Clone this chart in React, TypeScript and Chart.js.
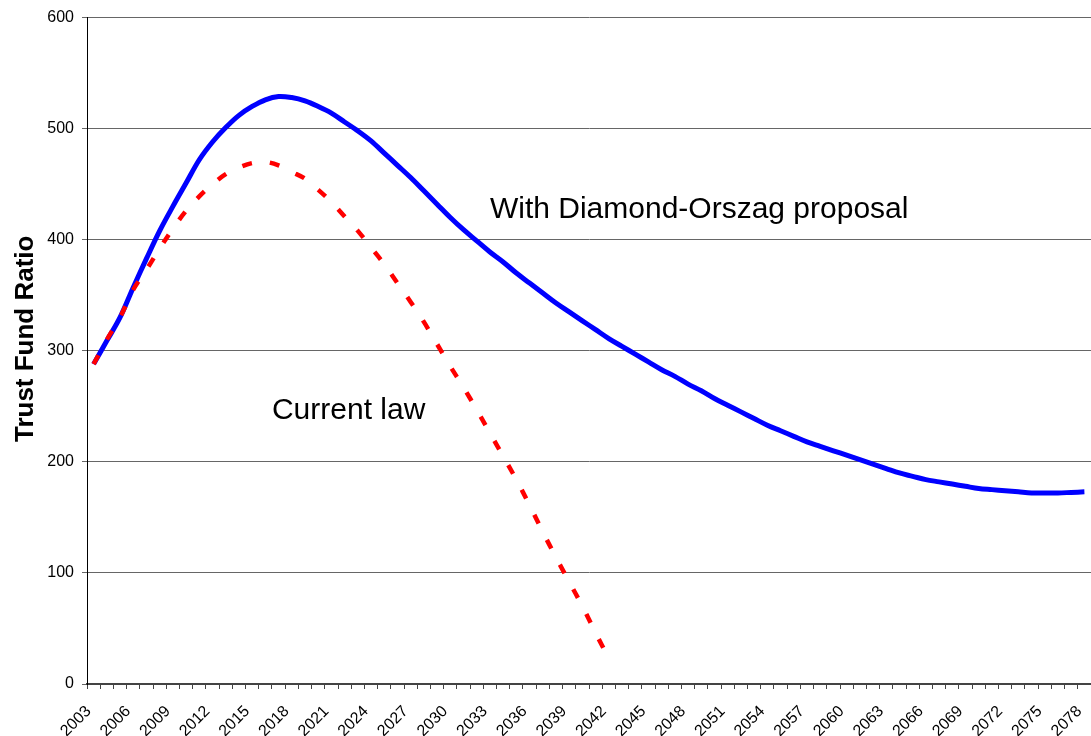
import React, { useEffect, useRef } from 'react';
import { Chart, registerables } from 'chart.js';

Chart.register(...registerables);

const years: string[] = [
  '2003', '2004', '2005', '2006', '2007', '2008', '2009', '2010', '2011', '2012',
  '2013', '2014', '2015', '2016', '2017', '2018', '2019', '2020', '2021', '2022',
  '2023', '2024', '2025', '2026', '2027', '2028', '2029', '2030', '2031', '2032',
  '2033', '2034', '2035', '2036', '2037', '2038', '2039', '2040', '2041', '2042',
  '2043', '2044', '2045', '2046', '2047', '2048', '2049', '2050', '2051', '2052',
  '2053', '2054', '2055', '2056', '2057', '2058', '2059', '2060', '2061', '2062',
  '2063', '2064', '2065', '2066', '2067', '2068', '2069', '2070', '2071', '2072',
  '2073', '2074', '2075', '2076', '2077', '2078',
];

// With Diamond-Orszag proposal
const proposal: number[] = [
  288, 309, 330, 357, 383, 408, 430, 451, 472, 488,
  501, 512, 520, 526, 529, 528, 525, 520, 514, 506,
  498, 489, 478, 467, 456, 444, 432, 420, 409, 399,
  389, 380, 370, 361, 352, 343, 335, 327, 319, 311,
  304, 297, 290, 283, 277, 270, 264, 257, 251, 245,
  239, 233, 228, 223, 218, 214, 210, 206, 202, 198,
  194, 190, 187, 184, 182, 180, 178, 176, 175, 174,
  173, 172, 172, 172, 172.5, 173,
];

// Current law
const currentLaw: number[] = [
  288, 310, 330, 355, 373, 392, 410, 426, 439, 450,
  459, 465, 469, 470, 467, 461, 455, 445, 434, 421,
  408, 393, 378, 361, 344, 326, 306, 286, 267, 247,
  226, 205, 184, 161, 137, 114, 92, 70, 46, 23,
];

const yTicks: number[] = [0, 100, 200, 300, 400, 500, 600];

const annotationTexts: string[] = ['With Diamond-Orszag proposal', 'Current law'];
const annotationIndex: number[] = [30, 13.5];
const annotationValue: number[] = [420, 239];
const yTitle = 'Trust Fund Ratio';

const FONT = '"Liberation Sans", Arial, Helvetica, sans-serif';

const textPlugin = {
  id: 'textPlugin',
  afterDatasetsDraw(chart: any) {
    const { ctx, scales } = chart;
    const xs = scales.x;
    const ys = scales.y;
    ctx.save();
    ctx.fillStyle = '#000';
    ctx.font = `30px ${FONT}`;
    ctx.textAlign = 'left';
    ctx.textBaseline = 'alphabetic';
    annotationTexts.forEach((t, i) => {
      const px = xs.getPixelForValue(annotationIndex[i]);
      const py = ys.getPixelForValue(annotationValue[i]);
      ctx.fillText(t, px, py);
    });
    ctx.restore();

    ctx.save();
    ctx.fillStyle = '#000';
    ctx.font = `bold 26px ${FONT}`;
    ctx.textAlign = 'center';
    ctx.textBaseline = 'alphabetic';
    const cy = (chart.chartArea.top + chart.chartArea.bottom) / 2 - 12;
    ctx.translate(33, cy);
    ctx.rotate(-Math.PI / 2);
    ctx.fillText(yTitle, 0, 0);
    ctx.restore();
  },
};

export default function App() {
  const ref = useRef<HTMLCanvasElement>(null);
  useEffect(() => {
    if (!ref.current) return;
    const chart = new Chart(ref.current, {
      type: 'line',
      data: {
        labels: years,
        datasets: [
          {
            label: 'Current law',
            data: currentLaw,
            borderColor: '#ff0000',
            borderWidth: 4.5,
            borderDash: [10, 18],
            borderCapStyle: 'butt',
            pointRadius: 0,
            tension: 0.35,
            fill: false,
          },
          {
            label: 'With Diamond-Orszag proposal',
            data: proposal,
            borderColor: '#0000ff',
            borderWidth: 5,
            pointRadius: 0,
            tension: 0.35,
            fill: false,
          },
        ],
      },
      options: {
        responsive: false,
        animation: false,
        layout: { padding: { top: 17, left: 0, right: 0, bottom: 0 } },
        plugins: {
          legend: { display: false },
          tooltip: { enabled: false },
        },
        scales: {
          x: {
            offset: true,
            grid: {
              offset: true,
              drawOnChartArea: false,
              drawTicks: true,
              tickLength: 5,
              color: '#444',
              lineWidth: 1,
            },
            border: { color: '#444', width: 2 },
            ticks: {
              autoSkip: false,
              minRotation: 45,
              maxRotation: 45,
              color: '#000',
              padding: 13,
              labelOffset: -5,
              font: { family: FONT, size: 16 },
              callback: (_v: any, i: number) => (i % 3 === 0 ? years[i] : ''),
            },
            afterFit: (s: any) => {
              s.height = 52;
              s.paddingLeft = 0;
              s.paddingRight = 0;
            },
          },
          y: {
            min: yTicks[0],
            max: yTicks[yTicks.length - 1],
            afterBuildTicks: (s: any) => {
              s.ticks = yTicks.map((v) => ({ value: v }));
            },
            ticks: {
              color: '#000',
              padding: 8,
              font: { family: FONT, size: 16 },
            },
            grid: { color: '#666', tickLength: 5, lineWidth: 1 },
            border: { color: '#000', width: 1 },
            afterFit: (s: any) => {
              s.width = 87;
            },
          },
        },
      },
      plugins: [textPlugin],
    });
    return () => chart.destroy();
  }, []);
  return (
    <div style={{ position: 'absolute', left: 0, top: 0, width: 1091, height: 736 }}>
      <canvas ref={ref} width={1091} height={736} style={{ display: 'block' }} />
    </div>
  );
}
